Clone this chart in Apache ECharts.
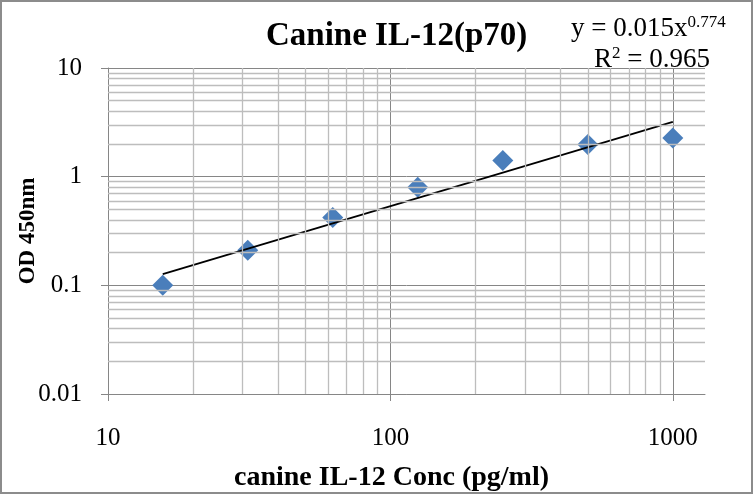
<!DOCTYPE html>
<html>
<head>
<meta charset="utf-8">
<script src="https://cdn.jsdelivr.net/npm/echarts@6/dist/echarts.min.js"></script>
<style>
  html, body { margin: 0; padding: 0; background: #fff; }
  #chart { width: 753px; height: 494px; }
</style>
</head>
<body>
<div id="chart"></div>
<script>
// Standard curve values
const concentrations = [15.625, 31.25, 62.5, 125, 250, 500, 1000];
const odValues = [0.1, 0.21, 0.42, 0.8, 1.41, 1.98, 2.27];

// Power trendline end points, y = 0.015x^0.774
const trendX = [15.625, 1000];
const trendY = [0.127, 3.2];

// Axis ticks and minor gridlines
const xTickLabels = [10, 100, 1000];
const yTickLabels = [0.01, 0.1, 1, 10];
const xMinorGrid = [20, 30, 40, 50, 60, 70, 80, 90, 200, 300, 400, 500, 600, 700, 800, 900];
const yMinorGrid = [0.02, 0.03, 0.04, 0.05, 0.06, 0.07, 0.08, 0.09,
  0.2, 0.3, 0.4, 0.5, 0.6, 0.7, 0.8, 0.9, 2, 3, 4, 5, 6, 7, 8, 9];

const FONT = '"Liberation Serif", "Times New Roman", serif';
const MAJOR = '#868686';
const MINOR = '#bdbdbd';

const chart = echarts.init(document.getElementById('chart'));

function tickFormatter(list) {
  return function (v) {
    const n = Number(Number(v).toPrecision(6));
    return list.indexOf(n) >= 0 ? String(n) : '';
  };
}

const minorLines = []
  .concat(xMinorGrid.map(v => ({ xAxis: v })))
  .concat(yMinorGrid.map(v => ({ yAxis: v })));

const option = {
  animation: false,
  title: {
    text: 'Canine IL-12(p70)',
    left: 261,
    top: 15,
    textStyle: {
      fontFamily: FONT,
      fontSize: 33,
      fontWeight: 'bold',
      color: '#000'
    }
  },
  graphic: [
    {
      type: 'rect',
      shape: { x: 1, y: 1, width: 751, height: 492 },
      style: { fill: 'none', stroke: '#8c8c8c', lineWidth: 2 },
      silent: true
    },
    {
      type: 'text',
      left: 571,
      top: 14,
      style: {
        text: '{n|y = 0.015x}{s|0.774}',
        rich: {
          n: { fontFamily: FONT, fontSize: 27, color: '#000', lineHeight: 30 },
          s: { fontFamily: FONT, fontSize: 17, color: '#000', verticalAlign: 'top', lineHeight: 30 }
        }
      }
    },
    {
      type: 'text',
      left: 594,
      top: 45,
      style: {
        text: '{n|R}{s|2}{n| = 0.965}',
        rich: {
          n: { fontFamily: FONT, fontSize: 27, color: '#000', lineHeight: 30 },
          s: { fontFamily: FONT, fontSize: 17, color: '#000', verticalAlign: 'top', lineHeight: 30 }
        }
      }
    }
  ],
  grid: {
    left: 108,
    right: 48,
    top: 68,
    bottom: 100,
    outerBoundsMode: 'none'
  },
  xAxis: {
    type: 'log',
    logBase: 10,
    min: 10,
    max: 1300,
    name: 'canine IL-12 Conc (pg/ml)',
    nameLocation: 'middle',
    nameGap: 70,
    nameMoveOverlap: false,
    nameTextStyle: {
      fontFamily: FONT,
      fontSize: 28,
      fontWeight: 'bold',
      color: '#000',
      padding: [0, 30, 0, 0]
    },
    axisLine: { lineStyle: { color: MAJOR, width: 1 } },
    axisTick: { show: true, length: 7, customValues: xTickLabels, lineStyle: { color: MAJOR } },
    axisLabel: {
      margin: 32,
      fontFamily: FONT,
      fontSize: 25,
      color: '#000',
      customValues: xTickLabels,
      formatter: tickFormatter(xTickLabels)
    },
    splitLine: {
      show: true,
      lineStyle: { color: [MAJOR, MAJOR, MAJOR, MINOR], width: 1 }
    }
  },
  yAxis: {
    type: 'log',
    logBase: 10,
    min: 0.01,
    max: 10,
    name: 'OD 450nm',
    nameLocation: 'middle',
    nameGap: 68,
    nameMoveOverlap: false,
    nameTextStyle: {
      fontFamily: FONT,
      fontSize: 23,
      fontWeight: 'bold',
      color: '#000'
    },
    axisLine: { show: true, lineStyle: { color: MAJOR, width: 1 } },
    axisTick: { show: true, length: 7, lineStyle: { color: MAJOR } },
    axisLabel: {
      margin: 26,
      fontFamily: FONT,
      fontSize: 25,
      color: '#000',
      formatter: tickFormatter(yTickLabels)
    },
    splitLine: {
      show: true,
      lineStyle: { color: MAJOR, width: 1 }
    }
  },
  series: [
    {
      // minor gridlines of the log-log plot
      type: 'line',
      data: [],
      z: 1,
      silent: true,
      markLine: {
        silent: true,
        symbol: 'none',
        label: { show: false },
        lineStyle: { color: MINOR, width: 1.3, type: 'solid' },
        animation: false,
        data: minorLines
      }
    },
    {
      name: 'OD',
      type: 'scatter',
      data: concentrations.map((x, i) => [x, odValues[i]]),
      symbol: 'diamond',
      symbolSize: 21,
      itemStyle: { color: '#4a7ebb', opacity: 1 },
      z: 3
    },
    {
      name: 'Trendline',
      type: 'line',
      data: trendX.map((x, i) => [x, trendY[i]]),
      showSymbol: false,
      symbol: 'none',
      lineStyle: { color: '#000', width: 1.8 },
      z: 4
    }
  ]
};

chart.setOption(option);
</script>
</body>
</html>
